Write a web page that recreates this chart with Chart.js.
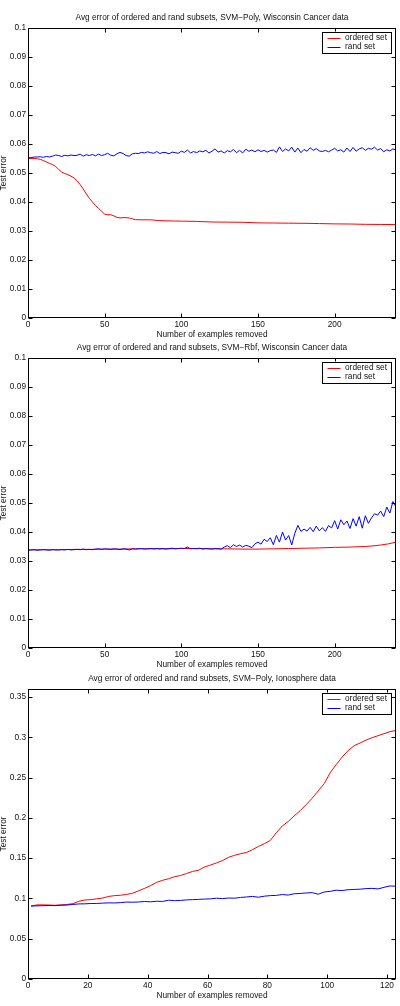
<!DOCTYPE html>
<html><head><meta charset="utf-8">
<script src="https://cdn.jsdelivr.net/npm/chart.js@4.4.1/dist/chart.umd.min.js"></script>
<style>
html,body{margin:0;padding:0;background:#fff;width:400px;height:1006px;overflow:hidden;position:relative}
canvas{position:absolute;left:0}
</style></head><body>
<canvas id="c1" width="400" height="345" style="top:0px"></canvas>
<canvas id="c2" width="400" height="345" style="top:330px"></canvas>
<canvas id="c3" width="400" height="345" style="top:661px"></canvas>
<script>
// ---------- shared categories ----------
const X_STEP2 = [0,2,4,6,8,10,12,14,16,18,20,22,24,26,28,30,32,34,36,38,40,42,44,46,48,50,52,54,56,58,60,62,64,66,68,70,72,74,76,78,80,82,84,86,88,90,92,94,96,98,100,102,104,106,108,110,112,114,116,118,120,122,124,126,128,130,132,134,136,138,140,142,144,146,148,150,152,154,156,158,160,162,164,166,168,170,172,174,176,178,180,182,184,186,188,190,192,194,196,198,200,202,204,206,208,210,212,214,216,218,220,222,224,226,228,230,232,234,236,238,240];

// ---------- chart 1: SVM-Poly, Wisconsin ----------
const TITLE1 = 'Avg error of ordered and rand subsets, SVM\u2212Poly, Wisconsin Cancer data';
const ORDERED1_X = [0,2,4,6,8,10,12,14,16,18,20,22,24,26,28,30,32,34,36,38,40,42,44,46,48,50,52,54,56,58,60,62,64,66,68,70,75,80,85,90,100,110,120,130,140,150,160,170,180,190,200,210,220,230,240];
const ORDERED1_Y = [0.0550,0.0550,0.0550,0.0549,0.0547,0.0543,0.0538,0.0533,0.0529,0.0523,
  0.0512,0.0503,0.0498,0.0494,0.0489,0.0483,0.0473,0.0460,0.0445,0.0428,
  0.0413,0.0400,0.0388,0.0378,0.0368,0.0358,0.0356,0.0356,0.0352,0.0347,
  0.0345,0.0346,0.0346,0.0345,0.0342,0.0339,
  0.03385,0.03385,0.0336,0.0335,
  0.0334,0.0333,0.0331,0.03305,0.0330,0.0328,0.03275,0.0327,0.03265,0.03255,0.03245,0.0324,0.0323,0.03225,0.0322];
const RAND1_Y = [0.0552,0.0553,0.0555,0.0555,0.0556,0.0554,0.0557,0.0555,0.0558,0.0562,
  0.0560,0.0557,0.0561,0.0559,0.0562,0.0560,0.0561,0.0565,0.0558,0.0563,
  0.0560,0.0564,0.0559,0.0565,0.0560,0.0563,0.0568,0.0561,0.0559,0.0566,
  0.0571,0.0567,0.0560,0.0558,0.0566,0.0568,0.0567,0.0571,0.0569,0.0573,
  0.0570,0.0568,0.0574,0.0567,0.0571,0.0570,0.0566,0.0572,0.0570,0.0568,
  0.0575,0.0571,0.0579,0.0569,0.0574,0.0570,0.0576,0.0573,0.0578,0.0569,
  0.0575,0.0583,0.0572,0.0576,0.0569,0.0577,0.0573,0.0581,0.0570,0.0578,
  0.0569,0.0582,0.0575,0.0579,0.0573,0.0580,0.0574,0.0578,0.0572,0.0577,
  0.0579,0.0571,0.0590,0.0574,0.0583,0.0576,0.0589,0.0572,0.0586,0.0570,
  0.0581,0.0575,0.0587,0.0578,0.0584,0.0576,0.0574,0.0578,0.0573,0.0579,
  0.0585,0.0576,0.0580,0.0572,0.0586,0.0574,0.0588,0.0575,0.0583,0.0587,
  0.0578,0.0585,0.0582,0.0589,0.0579,0.0584,0.0573,0.0580,0.0576,0.0583,
  0.0579];

// ---------- chart 2: SVM-Rbf, Wisconsin ----------
const TITLE2 = 'Avg error of ordered and rand subsets, SVM\u2212Rbf, Wisconsin Cancer data';
const ORDERED2_X = [0,10,20,30,40,50,60,70,80,90,100,110,120,130,140,150,160,170,180,190,200,210,220,225,230,235,240];
const ORDERED2_Y = [0.0338,0.0339,0.0339,0.0340,0.0340,0.0341,0.0341,0.0342,0.0342,0.0342,0.0343,0.0343,0.0342,0.0342,0.0341,0.0341,0.0342,0.0343,0.0344,0.0345,0.0347,0.0348,0.0350,0.0352,0.0355,0.0359,0.0365];
const RAND2_Y = [0.0337,0.0338,0.0339,0.0337,0.0338,0.0339,0.0338,0.0337,0.0339,0.0338,
  0.0338,0.0339,0.0338,0.0340,0.0338,0.0339,0.0340,0.0339,0.0341,0.0339,
  0.0340,0.0339,0.0341,0.0342,0.0340,0.0342,0.0341,0.0340,0.0342,0.0341,
  0.0339,0.0342,0.0341,0.0338,0.0342,0.0341,0.0342,0.0343,0.0341,0.0342,
  0.0343,0.0342,0.0343,0.0342,0.0343,0.0341,0.0343,0.0344,0.0342,0.0343,
  0.0344,0.0343,0.0348,0.0342,0.0343,0.0342,0.0344,0.0341,0.0343,0.0342,
  0.0341,0.0343,0.0342,0.0341,0.0348,0.0353,0.0346,0.0356,0.0350,0.0355,
  0.0348,0.0354,0.0351,0.0346,0.0359,0.0365,0.0358,0.0375,0.0367,0.0380,
  0.0356,0.0388,0.0365,0.0400,0.0372,0.0388,0.0355,0.0395,0.0423,0.0402,
  0.0410,0.0403,0.0416,0.0401,0.0420,0.0404,0.0415,0.0402,0.0422,0.0414,
  0.0439,0.0410,0.0442,0.0425,0.0438,0.0412,0.0446,0.0420,0.0453,0.0413,
  0.0456,0.0430,0.0448,0.0463,0.0458,0.0472,0.0453,0.0486,0.0465,0.0505,
  0.0487];

// ---------- chart 3: SVM-Poly, Ionosphere ----------
const TITLE3 = 'Avg error of ordered and rand subsets, SVM\u2212Poly, Ionosphere data';
const X3 = [1,3,5,7,9,11,13,15,17,19,21,23,25,27,29,31,33,35,37,39,41,43,45,47,49,51,53,55,57,59,61,63,65,67,69,71,73,75,77,79,81,83,85,87,89,91,93,95,97,99,101,103,105,107,109,111,113,115,117,119,121,123];
const ORDERED3_Y = [0.0905,0.0920,0.0920,0.0918,0.0915,0.0920,0.0925,0.0935,0.0965,0.0980,
  0.0985,0.0995,0.1005,0.1025,0.1035,0.1040,0.1050,0.1065,0.1095,0.1125,
  0.1160,0.1200,0.1225,0.1245,0.1270,0.1285,0.1310,0.1335,0.1350,0.1390,
  0.1415,0.1440,0.1470,0.1510,0.1535,0.1555,0.1570,0.1605,0.1645,0.1680,
  0.1720,0.1815,0.1900,0.1955,0.2025,0.2090,0.2165,0.2245,0.2335,0.2425,
  0.2560,0.2660,0.2755,0.2835,0.2895,0.2930,0.2965,0.2995,0.3020,0.3045,
  0.3070,0.3085];
const RAND3_Y = [0.0905,0.0908,0.0910,0.0912,0.0911,0.0915,0.0918,0.0925,0.0932,0.0933,
  0.0937,0.0938,0.0942,0.0945,0.0944,0.0948,0.0955,0.0953,0.0956,0.0962,
  0.0958,0.0965,0.0963,0.0978,0.0972,0.0975,0.0982,0.0985,0.0988,0.0992,
  0.0995,0.1003,0.0998,0.1005,0.1003,0.1012,0.1018,0.1025,0.1015,0.1028,
  0.1035,0.1038,0.1048,0.1042,0.1058,0.1062,0.1068,0.1072,0.1052,0.1080,
  0.1088,0.1102,0.1098,0.1108,0.1112,0.1115,0.1122,0.1125,0.1118,0.1138,
  0.1155,0.1152];

// ---------- ticks ----------
const X_TICKS_W = [0,50,100,150,200];
const X_LABELS_W = ['0','50','100','150','200'];
const Y_TICKS_W = [0,0.01,0.02,0.03,0.04,0.05,0.06,0.07,0.08,0.09,0.1];
const Y_LABELS_W = ['0','0.01','0.02','0.03','0.04','0.05','0.06','0.07','0.08','0.09','0.1'];
const X_TICKS_I = [0,20,40,60,80,100,120];
const X_LABELS_I = ['0','20','40','60','80','100','120'];
const Y_TICKS_I = [0,0.05,0.1,0.15,0.2,0.25,0.3,0.35];
const Y_LABELS_I = ['0','0.05','0.1','0.15','0.2','0.25','0.3','0.35'];

const SERIES_NAMES = ['ordered set','rand set'];
const X_TITLE = 'Number of examples removed';
const Y_TITLE = 'Test error';

const FAMILY = '"Liberation Sans", Arial, Helvetica, sans-serif';
const FS = 8.3;
const TXT = '#111';

const boxPlugin = {
  id: 'matlabBox',
  afterDatasetsDraw(chart) {
    const {ctx, chartArea: a, scales: {x, y}} = chart;
    ctx.save();
    ctx.strokeStyle = '#000';
    ctx.lineWidth = 1;
    const L = Math.round(a.left) + 0.5, R = Math.round(a.right) - 0.5;
    const T = Math.round(a.top) + 0.5, B = Math.round(a.bottom) - 0.5;
    ctx.strokeRect(L, T, R - L, B - T);
    const tl = 4;
    ctx.beginPath();
    x.ticks.forEach(t => {
      const px = Math.round(x.getPixelForValue(t.value)) + 0.5;
      ctx.moveTo(px, B); ctx.lineTo(px, B - tl);
      ctx.moveTo(px, T); ctx.lineTo(px, T + tl);
    });
    y.ticks.forEach(t => {
      const py = Math.round(y.getPixelForValue(t.value)) + 0.5;
      ctx.moveTo(L, py); ctx.lineTo(L + tl, py);
      ctx.moveTo(R, py); ctx.lineTo(R - tl, py);
    });
    ctx.stroke();
    // legend box
    const bw = 69, bh = 21;
    const bx = R - 4.5 - bw, by = T + 3;
    ctx.fillStyle = '#fff';
    ctx.fillRect(bx, by, bw, bh);
    ctx.strokeRect(Math.round(bx) + 0.5, Math.round(by) + 0.5, bw, bh);
    ctx.font = FS + 'px ' + FAMILY;
    ctx.textBaseline = 'middle';
    ctx.textAlign = 'left';
    chart.data.datasets.forEach((ds, i) => {
      const ry = by + 6 + i * 9.5;
      ctx.strokeStyle = ds.borderColor;
      ctx.beginPath();
      ctx.moveTo(bx + 5.5, Math.round(ry) + 0.5);
      ctx.lineTo(bx + 18.5, Math.round(ry) + 0.5);
      ctx.stroke();
      ctx.fillStyle = TXT;
      ctx.fillText(ds.label, bx + 23, ry);
    });
    ctx.restore();
  }
};

function pts(xs, ys) { return xs.map((v, i) => ({x: v, y: ys[i]})); }

function makeChart(id, title, ordX, ordY, randX, randY, xMax, yMax, xT, xL, yT, yL) {
  const font = {family: FAMILY, size: FS};
  return new Chart(document.getElementById(id), {
    type: 'line',
    data: {
      datasets: [
        {label: SERIES_NAMES[0], data: pts(ordX, ordY), borderColor: '#ff0000', borderWidth: 1, pointRadius: 0, fill: false, tension: 0, order: 1},
        {label: SERIES_NAMES[1], data: pts(randX, randY), borderColor: '#0000ff', borderWidth: 1, pointRadius: 0, fill: false, tension: 0, order: 0}
      ]
    },
    options: {
      responsive: false,
      animation: false,
      devicePixelRatio: 1,
      layout: {padding: {left: 0, right: 4, top: 0, bottom: 0}},
      plugins: {
        legend: {display: false},
        tooltip: {enabled: false},
        title: {display: true, text: title, fullSize: false, color: TXT, font: {family: FAMILY, size: FS, weight: 'normal', lineHeight: 1.2}, padding: {top: 13, bottom: 5}}
      },
      scales: {
        x: {
          type: 'linear', min: 0, max: xMax,
          grid: {display: false, drawTicks: false},
          border: {display: false},
          afterBuildTicks: s => { s.ticks = xT.map(v => ({value: v})); },
          afterFit: s => { s.height = 27; },
          ticks: {font, color: TXT, padding: 2, maxRotation: 0, autoSkip: false, callback: (v, i) => xL[i]},
          title: {display: true, text: X_TITLE, font, color: TXT, padding: {top: 0, bottom: 5}}
        },
        y: {
          type: 'linear', min: 0, max: yMax,
          grid: {display: false, drawTicks: false},
          border: {display: false},
          afterBuildTicks: s => { s.ticks = yT.map(v => ({value: v})); },
          afterFit: s => { s.width = 28; },
          ticks: {font, color: TXT, padding: 2, autoSkip: false, callback: (v, i) => yL[i]},
          title: {display: true, text: Y_TITLE, font, color: TXT, padding: {top: -1, bottom: 0}}
        }
      }
    },
    plugins: [boxPlugin]
  });
}

makeChart('c1', TITLE1, ORDERED1_X, ORDERED1_Y, X_STEP2, RAND1_Y, 240, 0.1, X_TICKS_W, X_LABELS_W, Y_TICKS_W, Y_LABELS_W);
makeChart('c2', TITLE2, ORDERED2_X, ORDERED2_Y, X_STEP2, RAND2_Y, 240, 0.1, X_TICKS_W, X_LABELS_W, Y_TICKS_W, Y_LABELS_W);
makeChart('c3', TITLE3, X3, ORDERED3_Y, X3, RAND3_Y, 123, 0.36, X_TICKS_I, X_LABELS_I, Y_TICKS_I, Y_LABELS_I);
</script>
</body></html>
